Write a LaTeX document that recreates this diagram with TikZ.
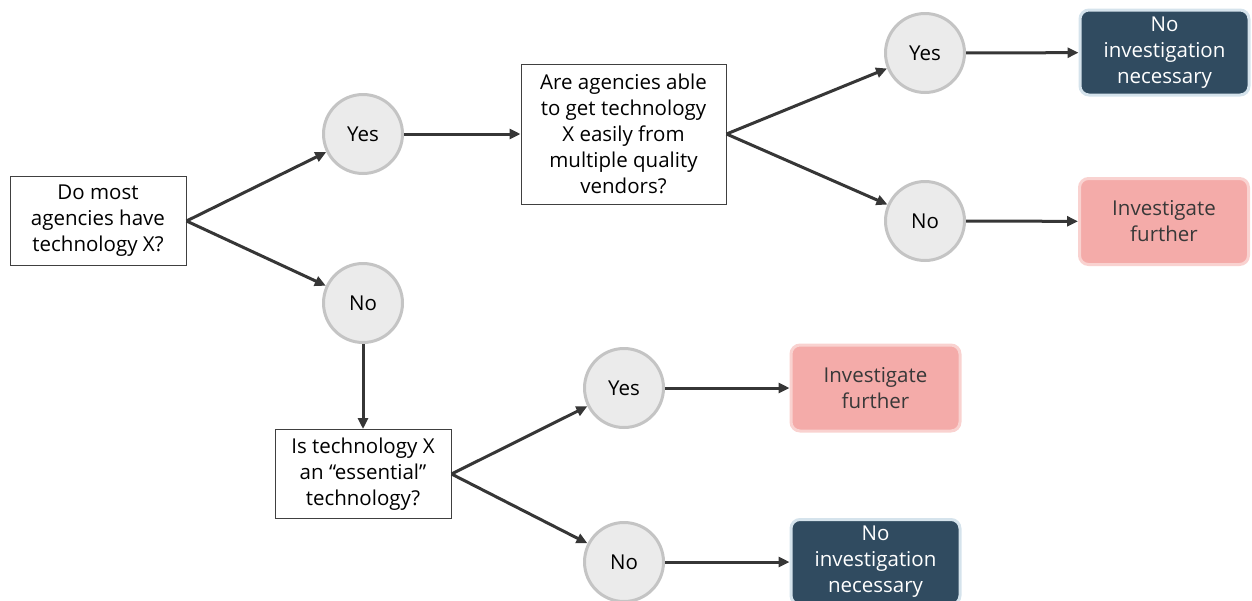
\documentclass[tikz,border=0pt]{standalone}
\usepackage{fontspec}
\setmainfont{Open Sans}
\usetikzlibrary{arrows.meta}

\definecolor{circfill}{HTML}{EBEBEB}
\definecolor{circline}{HTML}{C4C4C4}
\definecolor{navyfill}{HTML}{304B60}
\definecolor{navyline}{HTML}{D5E3EC}
\definecolor{pinkfill}{HTML}{F4ABA9}
\definecolor{pinkline}{HTML}{F9D2D0}
\definecolor{arrowgray}{HTML}{363636}

\begin{document}
\begin{tikzpicture}[x=1pt, y=-1pt, >={Triangle[length=11pt,width=10pt]},
  every node/.style={font=\fontsize{20.5}{26}\selectfont, align=center},
  question/.style={draw=black!75, line width=1pt, fill=white, inner sep=0pt, minimum height=89pt},
  answer/.style={circle, draw=circline, line width=3pt, fill=circfill, minimum size=79pt, inner sep=0pt},
  noneed/.style={draw=navyline, line width=3pt, fill=navyfill, rounded corners=9pt, text=white, minimum width=169pt, minimum height=85pt, inner sep=0pt},
  further/.style={draw=pinkline, line width=3pt, fill=pinkfill, rounded corners=9pt, text=black!78, minimum width=169pt, minimum height=86pt, inner sep=0pt},
  link/.style={->, draw=arrowgray, line width=3pt}]
  \useasboundingbox (0,0) rectangle (1252,600);

  % first question
  \node[question, minimum width=176pt] (Q1) at (98,221) {Do most\\agencies have\\technology X?};
  \node[answer] (Yes1) at (363,134) {Yes};
  \node[answer] (No1) at (363,303) {No};

  % upper branch
  \node[question, minimum width=205pt, minimum height=140pt] (Q2) at (623.5,134) {Are agencies able\\to get technology\\X easily from\\multiple quality\\vendors?};
  \node[answer] (Yes2) at (925,53) {Yes};
  \node[answer] (No2) at (925,221) {No};
  \node[noneed] (Done1) at (1164.5,52.5) {No\\investigation\\necessary};
  \node[further] (More1) at (1164,221.5) {Investigate\\further};

  % lower branch
  \node[question, minimum width=176pt] (Q3) at (363,474) {Is technology X\\an ``essential''\\technology?};
  \node[answer] (Yes3) at (624,388) {Yes};
  \node[answer] (No3) at (624,562) {No};
  \node[further] (More2) at (875.5,388) {Investigate\\further};
  \node[noneed] (Done2) at (875.5,562) {No\\investigation\\necessary};

  \draw[link] (Q1.east) -- (Yes1);
  \draw[link] (Q1.east) -- (No1);
  \draw[link] (Yes1) -- (Q2);
  \draw[link] (No1) -- (Q3);
  \draw[link] (Q2.east) -- (Yes2);
  \draw[link] (Q2.east) -- (No2);
  \draw[link] (Yes2) -- (Done1);
  \draw[link] (No2) -- (More1);
  \draw[link] (Q3.east) -- (Yes3);
  \draw[link] (Q3.east) -- (No3);
  \draw[link] (Yes3) -- (More2);
  \draw[link] (No3) -- (Done2);
\end{tikzpicture}
\end{document}
